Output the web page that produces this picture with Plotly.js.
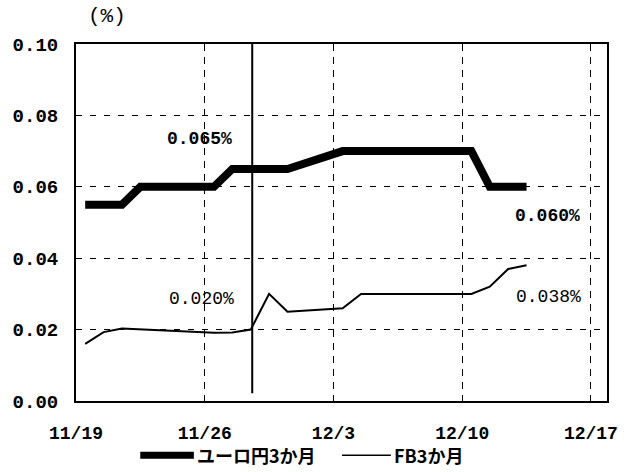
<!DOCTYPE html>
<html>
<head>
<meta charset="utf-8">
<script src="https://cdn.plot.ly/plotly-3.0.1.min.js"></script>
<style>html,body{margin:0;padding:0;background:#fff;}#chart{width:630px;height:472px;}</style>
</head>
<body>
<div id="chart"></div>
<script>
// Business days (Japan, 2001)
var dates = ['2001-11-19','2001-11-20','2001-11-21','2001-11-22','2001-11-26','2001-11-27','2001-11-28','2001-11-29','2001-11-30',
             '2001-12-03','2001-12-04','2001-12-05','2001-12-06','2001-12-07','2001-12-10','2001-12-11','2001-12-12','2001-12-13'];
var euroyen3m = [0.055,0.055,0.055,0.060,0.060,0.065,0.065,0.065,0.065,0.070,0.070,0.070,0.070,0.070,0.070,0.060,0.060,0.060];
var fb3m      = [0.016,0.0193,0.0203,0.0201,0.0191,0.0192,0.020,0.030,0.025,0.026,0.030,0.030,0.030,0.030,0.030,0.032,0.037,0.038];
var seriesNames = ['ユーロ円3か月','FB3か月'];
var xTickVals = ['2001-11-19','2001-11-26','2001-12-03','2001-12-10','2001-12-17'];
var xTickText = ['11/19','11/26','12/3','12/10','12/17'];
var yTickVals = [0,0.02,0.04,0.06,0.08,0.10];
var yTickText = ['0.00','0.02','0.04','0.06','0.08','0.10'];
var markerDate = '2001-11-28';

// plot each daily value at mid-day
var xs = dates.map(function(d){ return d + ' 12:00'; });

var monoFont = 'Liberation Mono, DejaVu Sans Mono, monospace';
var cjkFont = 'Noto Sans CJK JP, Noto Sans, sans-serif';
var widths = [8, 2];

var traces = [
  {x: xs, y: euroyen3m, name: seriesNames[0], type: 'scatter', mode: 'lines',
   line: {color: '#000', width: widths[0]}},
  {x: xs, y: fb3m, name: seriesNames[1], type: 'scatter', mode: 'lines',
   line: {color: '#000', width: widths[1]}}
];

// manual legend (below the plot), in paper coordinates
var legY = -0.152;
var legItems = [
  {x0: 0.121, x1: 0.222, tx: 0.224},
  {x0: 0.501, x1: 0.593, tx: 0.595}
];
var legShapes = legItems.map(function(it, i){
  return {type: 'line', xref: 'paper', yref: 'paper', x0: it.x0, x1: it.x1, y0: legY, y1: legY,
          line: {color: '#000', width: i === 0 ? 7 : 1.5}};
});
var legAnns = legItems.map(function(it, i){
  return {xref: 'paper', yref: 'paper', x: it.tx, y: legY, xanchor: 'left', yanchor: 'middle',
          text: seriesNames[i], showarrow: false,
          font: {family: cjkFont, size: 18, color: '#000', weight: 'bold'}};
});

var layout = {
  width: 630, height: 472,
  margin: {l: 76, r: 23, t: 44, b: 71},
  paper_bgcolor: '#fff', plot_bgcolor: '#fff',
  font: {family: monoFont, color: '#000', size: 17},
  showlegend: false,
  xaxis: {
    type: 'date', range: ['2001-11-19 00:00', '2001-12-17 21:00'],
    tickmode: 'array', tickvals: xTickVals, ticktext: xTickText,
    showgrid: true, gridcolor: '#000', gridwidth: 1, griddash: '7px,6px',
    showline: true, linecolor: '#000', linewidth: 2, mirror: true,
    ticks: '', zeroline: false, ticklabelstandoff: 14,
    tickfont: {family: monoFont, size: 18, color: '#000', weight: 'bold'}
  },
  yaxis: {
    range: [0, 0.10], tickmode: 'array', tickvals: yTickVals, ticktext: yTickText,
    showgrid: true, gridcolor: '#000', gridwidth: 1, griddash: '6px,8px',
    showline: true, linecolor: '#000', linewidth: 2, mirror: true,
    ticks: '', zeroline: false, ticklabelstandoff: 12,
    tickfont: {family: monoFont, size: 19, color: '#000', weight: 'bold'}
  },
  shapes: [
    {type: 'line', xref: 'x', yref: 'y', x0: markerDate + ' 14:00', x1: markerDate + ' 14:00',
     y0: 0.0022, y1: 0.10, line: {color: '#000', width: 2}}
  ].concat(legShapes),
  annotations: [
    {xref: 'paper', yref: 'paper', x: 0.018, y: 1.04, xanchor: 'left', yanchor: 'bottom',
     text: '(%)', showarrow: false, font: {family: monoFont, size: 21, color: '#000'}},
    {xref: 'x', yref: 'y', x: '2001-11-25 17:00', y: 0.0734, text: '0.065%', showarrow: false,
     font: {family: monoFont, size: 18, color: '#000', weight: 'bold'}},
    {xref: 'x', yref: 'y', x: '2001-12-14 15:00', y: 0.0519, text: '0.060%', showarrow: false,
     font: {family: monoFont, size: 18, color: '#000', weight: 'bold'}},
    {xref: 'x', yref: 'y', x: '2001-11-25 20:00', y: 0.0287, text: '0.020%', showarrow: false,
     font: {family: monoFont, size: 18, color: '#000'}},
    {xref: 'x', yref: 'y', x: '2001-12-14 17:00', y: 0.029, text: '0.038%', showarrow: false,
     font: {family: monoFont, size: 18, color: '#000'}}
  ].concat(legAnns)
};

Plotly.newPlot('chart', traces, layout, {displayModeBar: false, staticPlot: true});
</script>
</body>
</html>
